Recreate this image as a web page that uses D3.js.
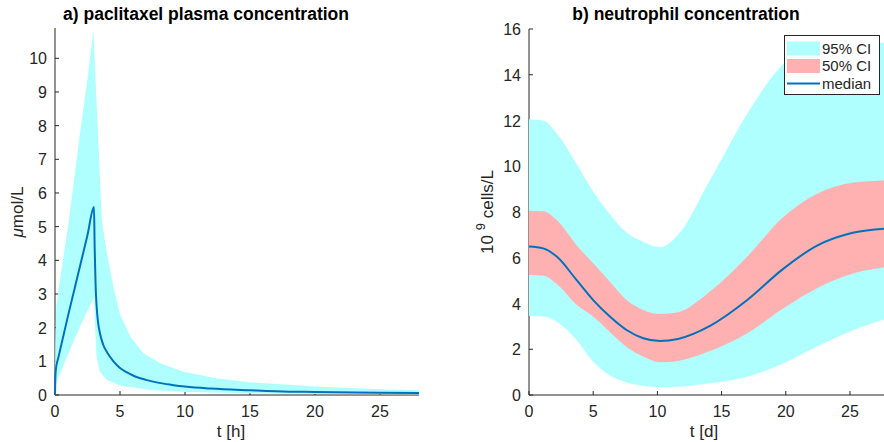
<!DOCTYPE html>
<html><head><meta charset="utf-8">
<script src="https://cdn.jsdelivr.net/npm/d3@7"></script>
<style>body{margin:0;background:#fff}svg{display:block}text{font-family:"Liberation Sans",Arial,sans-serif;fill:#262626}</style>
</head><body><svg id="c" width="884" height="442"></svg>
<script>
// ---- panel a: paclitaxel (t in hours) ----
const pacMedT = [0,0.03,0.08,0.15,0.25,0.4,0.7,1.0,1.5,2.0,2.5,3.0,3.05,3.12,3.2,3.3,3.45,3.7,4.0,4.5,5,5.5,6,7,8,9,10,12,15,18,20,25,28];
const pacMedV = [0,0.55,0.8,0.95,1.1,1.35,1.85,2.35,3.15,3.95,4.75,5.58,4.4,3.3,2.65,2.2,1.85,1.5,1.27,1.0,0.8,0.68,0.58,0.45,0.36,0.3,0.25,0.19,0.14,0.1,0.09,0.07,0.06];
const pacUpT = [0,0.03,0.1,0.3,1.0,1.5,2.0,2.5,2.95,3.6,4.0,4.5,5.0,5.8,6.8,8.1,9.9,12.4,14.9,20,25,28];
const pacUpV = [0,1.5,2.6,3.2,5.0,6.5,8.0,9.4,10.85,5.2,4.2,3.2,2.4,1.73,1.24,0.94,0.69,0.5,0.38,0.25,0.17,0.14];
const pacLoT = [0,0.1,0.3,1.0,1.5,2.0,2.5,3.0,3.1,3.2,3.46,3.97,5.0,7.3,10,15,20,28];
const pacLoV = [0,0.35,0.55,1.2,1.65,2.1,2.5,2.9,1.9,1.1,0.69,0.45,0.28,0.15,0.09,0.05,0.03,0.02];
const pacXTicks = [0,5,10,15,20,25];
const pacYTicks = [0,1,2,3,4,5,6,7,8,9,10];

// ---- panel b: neutrophils (t in days) ----
const neuT    = [0,1.1,2.16,3.7,5.0,6.3,7.6,8.9,10.2,11.6,14.1,17.0,19.7,22.4,25.3,28];
const neuMed  = [6.49,6.41,6.05,5.03,4.15,3.43,2.84,2.48,2.36,2.45,3.02,4.15,5.47,6.52,7.1,7.28];
const neu50Up = [8.06,8.03,7.65,6.55,5.76,4.95,4.15,3.72,3.54,3.62,4.52,6.05,7.73,8.79,9.29,9.38];
const neu50Lo = [5.25,5.22,4.85,3.95,3.43,2.75,2.1,1.68,1.43,1.49,1.92,2.7,3.75,4.66,5.32,5.6];
const neu95Up = [12.06,12.0,11.44,10.1,8.9,7.9,7.1,6.7,6.46,7.0,9.4,12.3,14.4,15.3,15.4,15.4];
const neu95Lo = [3.45,3.43,3.2,2.4,1.45,0.85,0.55,0.4,0.34,0.36,0.51,0.8,1.36,2.11,2.84,3.36];
const neuXTicks = [0,5,10,15,20,25];
const neuYTicks = [0,2,4,6,8,10,12,14,16];

const cCyan = "#b0ffff", cPink = "#ffb0b0", cBlue = "#0072bd", cAx = "#262626";
const FS = 16;
const svg = d3.select("#c");

function axes(x, y, xt, yt) {
  const g = svg.append("g");
  const [x0, x1] = x.range(), [y0, y1] = y.range();
  g.append("line").attr("x1", x0).attr("x2", x1).attr("y1", y0).attr("y2", y0).attr("stroke", cAx).attr("stroke-width", 1);
  g.append("line").attr("x1", x0).attr("x2", x0).attr("y1", y0).attr("y2", y1).attr("stroke", cAx).attr("stroke-width", 1);
  xt.forEach(t => {
    g.append("line").attr("x1", x(t)).attr("x2", x(t)).attr("y1", y0).attr("y2", y0 - 4).attr("stroke", cAx);
    g.append("text").attr("x", x(t)).attr("y", y0 + 22).attr("text-anchor", "middle").attr("font-size", FS).text(t);
  });
  yt.forEach(t => {
    g.append("line").attr("x1", x0).attr("x2", x0 + 4).attr("y1", y(t)).attr("y2", y(t)).attr("stroke", cAx);
    g.append("text").attr("x", x0 - 8).attr("y", y(t) + 6).attr("text-anchor", "end").attr("font-size", FS).text(t);
  });
}

// panel a
const xa = d3.scaleLinear().domain([0, 28]).range([55, 419]);
const ya = d3.scaleLinear().domain([0, 10.9]).range([395, 28]);
axes(xa, ya, pacXTicks, pacYTicks);
const upA = pacUpT.map((t, i) => [xa(t), ya(pacUpV[i])]);
const loA = pacLoT.map((t, i) => [xa(t), ya(pacLoV[i])]).reverse();
svg.append("path").attr("d", d3.line()(upA.concat(loA)) + "Z").attr("fill", cCyan);
svg.append("path").datum(pacMedT.map((t, i) => [t, pacMedV[i]]))
  .attr("d", d3.line().x(d => xa(d[0])).y(d => ya(d[1])).curve(d3.curveMonotoneX))
  .attr("fill", "none").attr("stroke", cBlue).attr("stroke-width", 2);

// panel b
const xb = d3.scaleLinear().domain([0, 28]).range([529, 888.5]);
const yb = d3.scaleLinear().domain([0, 16]).range([395, 29]);
axes(xb, yb, neuXTicks, neuYTicks);
const rows = neuT.map((t, i) => ({t, m: neuMed[i], u5: neu50Up[i], l5: neu50Lo[i], u9: neu95Up[i], l9: neu95Lo[i]}));
const area = (a, b) => d3.area().x(d => xb(d.t)).y0(d => yb(d[b])).y1(d => yb(d[a])).curve(d3.curveMonotoneX);
svg.append("path").datum(rows).attr("d", area("u9", "l9")).attr("fill", cCyan);
svg.append("path").datum(rows).attr("d", area("u5", "l5")).attr("fill", cPink);
svg.append("path").datum(rows).attr("d", d3.line().x(d => xb(d.t)).y(d => yb(d.m)).curve(d3.curveMonotoneX))
  .attr("fill", "none").attr("stroke", cBlue).attr("stroke-width", 2);

// titles
svg.append("text").attr("x", 206).attr("y", 20).attr("text-anchor", "middle").attr("font-size", 17.5).attr("font-weight", "bold").style("fill", "#000").text("a) paclitaxel plasma concentration");
svg.append("text").attr("x", 686).attr("y", 20).attr("text-anchor", "middle").attr("font-size", 17.5).attr("font-weight", "bold").style("fill", "#000").text("b) neutrophil concentration");

// axis labels
svg.append("text").attr("x", 231).attr("y", 437).attr("text-anchor", "middle").attr("font-size", 17).text("t [h]");
svg.append("text").attr("x", 704).attr("y", 437).attr("text-anchor", "middle").attr("font-size", 17).text("t [d]");
const yl1 = svg.append("text").attr("transform", "translate(23,212) rotate(-90)").attr("text-anchor", "middle").attr("font-size", 17);
yl1.append("tspan").attr("font-style", "italic").text("μ");
yl1.append("tspan").text("mol/L");
const yl2 = svg.append("text").attr("transform", "translate(493,212) rotate(-90)").attr("text-anchor", "middle").attr("font-size", 17);
yl2.append("tspan").text("10 ");
yl2.append("tspan").attr("dy", -8).attr("font-size", 13).text("9");
yl2.append("tspan").attr("dy", 8).text(" cells/L");

// legend
const lg = svg.append("g");
lg.append("rect").attr("x", 784.5).attr("y", 35.5).attr("width", 95).attr("height", 59).attr("fill", "#fff").attr("stroke", cAx).attr("stroke-width", 1);
const items = [["95% CI", "patch", cCyan], ["50% CI", "patch", cPink], ["median", "line", cBlue]];
items.forEach((it, i) => {
  const cy = 48.5 + i * 17.5;
  if (it[1] === "patch") lg.append("rect").attr("x", 787).attr("y", cy - 7).attr("width", 33).attr("height", 14).attr("fill", it[2]);
  else lg.append("line").attr("x1", 787).attr("x2", 820).attr("y1", cy).attr("y2", cy).attr("stroke", it[2]).attr("stroke-width", 2);
  lg.append("text").attr("x", 822).attr("y", cy + 5).attr("font-size", 15).text(it[0]);
});
</script></body></html>
